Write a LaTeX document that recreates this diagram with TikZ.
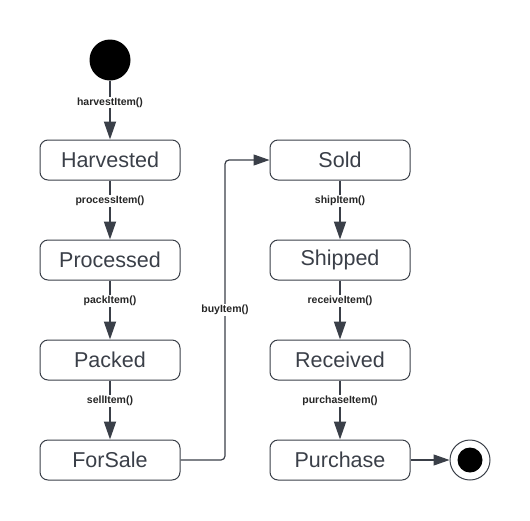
\documentclass[tikz,border=0pt]{standalone}
\usepackage{fontspec}
\setmainfont{Liberation Sans}
\usetikzlibrary{arrows.meta}
\definecolor{umlgray}{HTML}{3A3F48}
\tikzset{
 state/.style={draw=umlgray, line width=1pt, rounded corners=8pt, minimum width=140pt, minimum height=40pt, text=umlgray, font=\fontsize{21.5}{24}\selectfont},
 trans/.style={umlgray, line width=1.8pt, -{Triangle[length=18pt,width=12pt]}},
 thintrans/.style={umlgray, line width=1.2pt, -{Triangle[length=16pt,width=11pt]}},
 evt/.style={fill=white, text=black!85, font=\bfseries\fontsize{10.5}{12}\selectfont, inner sep=1pt},
}

\begin{document}
\begin{tikzpicture}[x=1pt,y=-1pt]
\useasboundingbox (0,0) rectangle (530,520);

% start and end markers
\node[circle, fill=black, minimum size=41pt, inner sep=0pt] (start) at (110,60) {};
\node[circle, draw=umlgray, line width=1pt, minimum size=40pt, inner sep=0pt] (stop) at (470,460) {};
\node[circle, fill=black, minimum size=25pt, inner sep=0pt] (stopdot) at (stop) {};

% left column
\node[state] (Harvested) at (110,160) {Harvested};
\node[state] (Processed) at (110,260) {Processed};
\node[state] (Packed)    at (110,360) {Packed};
\node[state] (ForSale)   at (110,460) {ForSale};

% right column
\node[state] (Sold)      at (340,160) {Sold};
\node[state] (Shipped)   at (340,260) {Shipped};
\node[state] (Received)  at (340,360) {Received};
\node[state] (Purchase)  at (340,460) {Purchase};

% transitions
\draw[trans] (start.south) -- node[evt, pos=0.37] {harvestItem()} (Harvested.north);
\draw[trans] (Harvested.south) -- node[evt, pos=0.35] {processItem()} (Processed.north);
\draw[trans] (Processed.south) -- node[evt, pos=0.35] {packItem()} (Packed.north);
\draw[trans] (Packed.south) -- node[evt, pos=0.35] {sellItem()} (ForSale.north);

\coordinate (buyturn) at (225,460);
\draw[thintrans, rounded corners=4pt] (ForSale.east) -- (buyturn) |- node[evt, pos=0.25] {buyItem()} (Sold.west);

\draw[trans] (Sold.south) -- node[evt, pos=0.35] {shipItem()} (Shipped.north);
\draw[trans] (Shipped.south) -- node[evt, pos=0.35] {receiveItem()} (Received.north);
\draw[trans] (Received.south) -- node[evt, pos=0.35] {purchaseItem()} (Purchase.north);
\draw[thintrans] (Purchase.east) -- (stop.west);
\end{tikzpicture}
\end{document}
